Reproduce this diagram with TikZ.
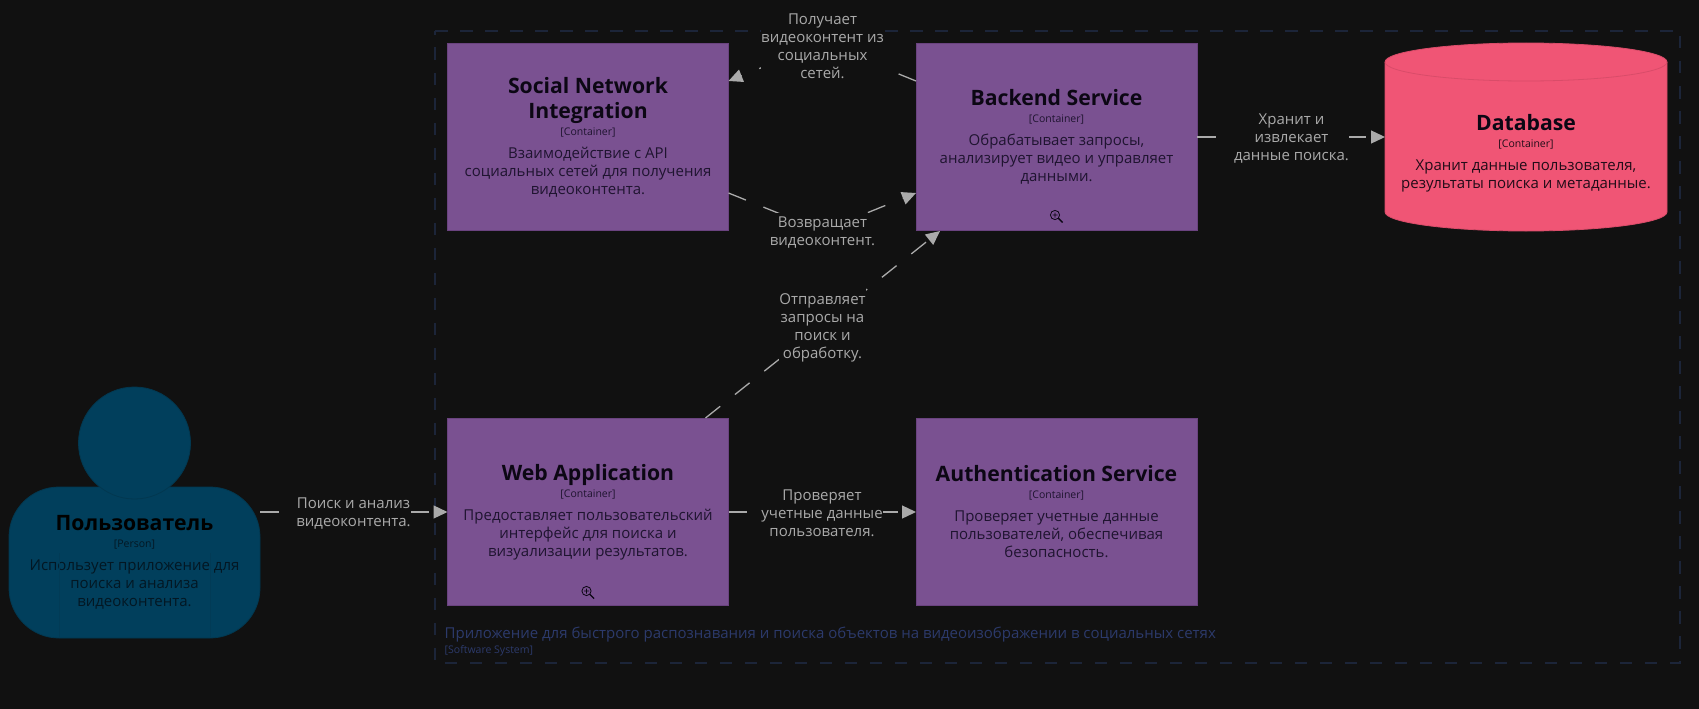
\documentclass[tikz,border=0pt]{standalone}
\usepackage{fontspec}
\setmainfont{Open Sans}
\usetikzlibrary{arrows.meta}
\definecolor{pagebg}{HTML}{111111}
\definecolor{flowgray}{HTML}{AAAAAA}
\definecolor{purplefill}{HTML}{7A5191}
\definecolor{purpleline}{HTML}{6A437F}
\definecolor{pinkfill}{HTML}{F05575}
\definecolor{pinkline}{HTML}{D94C69}
\definecolor{bluefill}{HTML}{013F5C}
\definecolor{blueline}{HTML}{023850}
\definecolor{bluerib}{HTML}{023B56}
\definecolor{edgeblue}{HTML}{1C2539}
\definecolor{systext}{HTML}{2C3A6B}
\definecolor{darktext}{HTML}{0C0714}
\definecolor{desctext}{HTML}{1F1430}
\definecolor{persontext}{HTML}{031723}
\definecolor{dbtextcol}{HTML}{220C18}
\newcommand{\namefont}{\fontsize{21.2}{25}\selectfont\bfseries}
\newcommand{\tagfont}{\fontsize{10.5}{18}\selectfont}
\begin{document}
\begin{tikzpicture}[x=1pt,y=-1pt]
        \tikzstyle{flow} = [draw=flowgray,line width=1.3pt,dash pattern=on 18.8pt off 18.8pt,-{Triangle[length=14pt,width=13pt,fill=flowgray]}]
        \tikzstyle{flowtext} = [fill=pagebg,text=flowgray,align=center,inner xsep=0.5pt,inner ysep=4pt,font=\fontsize{15}{18}\selectfont]
        \tikzstyle{container} = [rectangle,fill=purplefill,draw=purpleline,line width=0.8pt,minimum width=281pt,minimum height=187.5pt,inner sep=0pt,outer sep=0pt,align=center,text=desctext,font=\fontsize{15}{18}\selectfont]
        \tikzstyle{personpart} = [fill=bluefill,draw=blueline,line width=0.8pt,inner sep=0pt,outer sep=0pt]
        \tikzstyle{syslabel} = [text=systext,anchor=west,inner sep=0pt]

        \useasboundingbox[fill=pagebg] (0,0) rectangle (1699,709);

        % system boundary
        \draw[draw=edgeblue,line width=1.3pt,dash pattern=on 12.5pt off 12.5pt] (435,31) -- (1680,31) -- (1680,663) -- (435,663) -- cycle;
        \node[syslabel,font=\fontsize{15}{18}\selectfont] (systitle) at (444.5,634.5) {Приложение для быстрого распознавания и поиска объектов на видеоизображении в социальных сетях};
        \node[syslabel,font=\tagfont] (systag) at (444.5,650.5) {[Software System]};

        % person
        \node[personpart,rectangle,rounded corners=50pt,minimum width=251pt,minimum height=151pt,align=center,text=persontext,font=\fontsize{15}{18}\selectfont] (person) at (134.5,562.5) {{\namefont\color{black}Пользователь}\\[-1pt]{\tagfont [Person]}\\[5pt]Использует приложение для\\поиска и анализа\\видеоконтента.};
        \node[personpart,circle,minimum size=112pt] (head) at (134.5,443) {};
        \draw[bluerib,line width=0.8pt] (59,553) -- (59,638) (210,553) -- (210,638);

        % containers
        \node[container] (social) at (588,137) {{\namefont\color{darktext}Social Network}\\[7pt]{\namefont\color{darktext}Integration}\\[-1pt]{\tagfont [Container]}\\[5pt]Взаимодействие с API\\социальных сетей для получения\\видеоконтента.};
        \node[container] (backend) at (1056.5,137) {{\namefont\color{darktext}Backend Service}\\[-1pt]{\tagfont [Container]}\\[5pt]Обрабатывает запросы,\\анализирует видео и управляет\\данными.};
        \node[container] (web) at (588,512) {{\namefont\color{darktext}Web Application}\\[-1pt]{\tagfont [Container]}\\[5pt]Предоставляет пользовательский\\интерфейс для поиска и\\визуализации результатов.};
        \node[container] (auth) at (1056.5,512) {{\namefont\color{darktext}Authentication Service}\\[-1pt]{\tagfont [Container]}\\[5pt]Проверяет учетные данные\\пользователей, обеспечивая\\безопасность.};

        % database
        \node[minimum width=282pt,minimum height=188pt,inner sep=0pt,outer sep=0pt] (db) at (1526,137) {};
        \draw[fill=pinkfill,draw=pinkline,line width=0.8pt] (1385,62) arc[start angle=180,end angle=0,x radius=141pt,y radius=19pt] -- (1667,212) arc[start angle=0,end angle=-180,x radius=141pt,y radius=19pt] -- cycle;
        \draw[draw=pinkline,line width=0.8pt] (1385,62) arc[start angle=180,end angle=360,x radius=141pt,y radius=19pt];
        \node[align=center,inner sep=0pt,text=dbtextcol,font=\fontsize{15}{18}\selectfont] (dbtext) at (1526,153) {{\namefont\color{darktext}Database}\\[-1pt]{\tagfont [Container]}\\[5pt]Хранит данные пользователя,\\результаты поиска и метаданные.};

        % zoom icons
        \foreach \ix/\iy in {1056.5/216.5,588/592.5} {
            \draw[darktext,line width=0.8pt] (\ix-1.5,\iy-1.5) circle (4.6pt) (\ix-1.5,\iy-4) -- (\ix-1.5,\iy+1) (\ix-4,\iy-1.5) -- (\ix+1,\iy-1.5);
            \draw[darktext,line width=1.4pt] (\ix+1.8,\iy+1.8) -- (\ix+6,\iy+6);
        }

        % turning points of the two curved flows
        \coordinate (getvia) at (822.5,43);
        \coordinate (retvia) at (822.5,231);

        \draw[flow] ([yshift=56pt]backend.west) -- (getvia) -- ([yshift=56pt]social.east);
        \draw[flow] ([yshift=-56pt]social.east) -- (retvia) -- ([yshift=-56pt]backend.west);
        \draw[flow] (705.5,418) -- (940,231);
        \draw[flow] (web.west -| person.east) -- (web.west);
        \draw[flow] (web) edge (auth);
        \draw[flow] (backend.east) -- (db.west);

        \node[flowtext,yshift=-3pt] (getlabel) at (getvia) {Получает\\видеоконтент из\\социальных\\сетей.};
        \node[flowtext,yshift=-1.5pt] (retlabel) at (retvia) {Возвращает\\видеоконтент.};
        \node[flowtext,inner ysep=7pt] (sendlabel) at (822.5,328) {Отправляет\\запросы на\\поиск и\\обработку.};
        \node[flowtext] (searchlabel) at (353.5,513.5) {Поиск и анализ\\видеоконтента.};
        \node[flowtext] (checklabel) at (822,513) {Проверяет\\учетные данные\\пользователя.};
        \node[flowtext] (storelabel) at (1291.5,139) {Хранит и\\извлекает\\данные поиска.};

    \end{tikzpicture}
\end{document}
